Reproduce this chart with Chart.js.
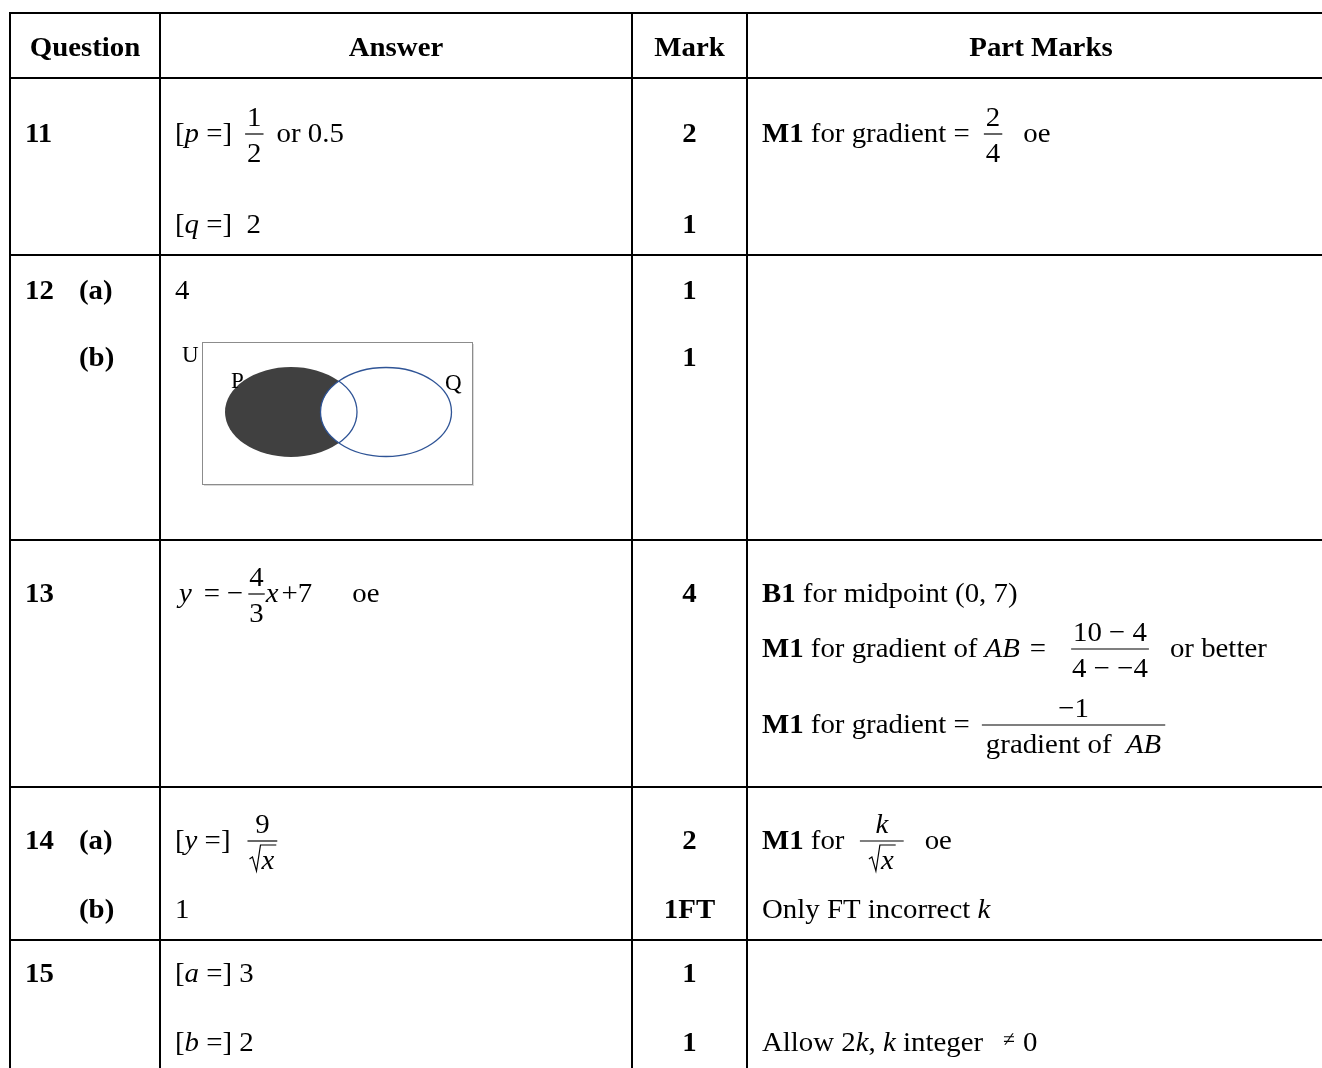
<!DOCTYPE html>
<html>
<head>
<meta charset="utf-8">
<script src="https://cdn.jsdelivr.net/npm/chart.js@4.4.0/dist/chart.umd.min.js"></script>
<style>
html,body{margin:0;padding:0;background:#fff;overflow:hidden}
#wrap{width:1322px;height:1068px;position:relative}
canvas{display:block}
</style>
</head>
<body>
<div id="wrap"><canvas id="c" width="1322" height="1068"></canvas></div>
<script>
// ---------- DATA ----------
const headers = ['Question', 'Answer', 'Mark', 'Part Marks'];
const questions = ['11', '12', '13', '14', '15'];
const parts = [[], ['(a)', '(b)'], [], ['(a)', '(b)'], []];
const marks = [['2', '1'], ['1', '1'], ['4'], ['2', '1FT'], ['1', '1']];
// token kinds: R regular, B bold, I italic, F fraction [num, den, pad], S square root, G gap, N small symbol, V venn diagram
const answers = [
  [ [['R','['],['I','p'],['R',' =]'],['G',12],['F',[['R','1']],[['R','2']],3],['G',12],['R','or 0.5']],
    [['R','['],['I','q'],['R',' =]  2']] ],
  [ [['R','4']], [['V']] ],
  [ [['G',4],['I','y'],['G',12],['R','='],['G',7],['R','−'],['G',4],['F',[['R','4']],[['R','3']],2],['G',0],['I','x'],['G',3],['R','+'],['G',0],['R','7'],['G',40],['R','oe']] ],
  [ [['R','['],['I','y'],['R',' =]'],['G',16],['F',[['R','9']],[['S',[['I','x']]]],2]],
    [['R','1']] ],
  [ [['R','['],['I','a'],['R',' =] 3']],
    [['R','['],['I','b'],['R',' =] 2']] ]
];
const partMarks = [
  [ [['B','M1'],['R',' for gradient = '],['G',6],['F',[['R','2']],[['R','4']],3],['G',20],['R','oe']] ],
  [],
  [ [['B','B1'],['R',' for midpoint (0, 7)']],
    [['B','M1'],['R',' for gradient of '],['I','AB'],['G',10],['R','='],['G',24],['F',[['R','10 − 4']],[['R','4 − −4']],2],['G',20],['R','or better']],
    [['B','M1'],['R',' for gradient = '],['G',4],['F',[['R','−1']],[['R','gradient of  '],['I','AB']],5]] ],
  [ [['B','M1'],['R',' for  '],['F',[['I','k']],[['S',[['I','x']]]],9],['G',20],['R','oe']],
    [['R','Only FT incorrect '],['I','k']] ],
  [ [], [['R','Allow 2'],['I','k'],['R',', '],['I','k'],['R',' integer'],['G',20],['N','≠'],['G',8],['R','0']] ]
];
const vennLabels = ['U', 'P', 'Q'];

// ---------- LAYOUT / STYLE ----------
const COLS = [10, 160, 632, 747, 1335];
const ROWS = [13, 78, 255, 540, 787, 940, 1090];
const HEAD_BASE = 56;
const LINES = [[142, 233], [299, 366], [602, 657, 733], [849, 918], [982, 1051]];
const Q_X = 25, PART_X = 79, ANS_X = 175, PM_X = 762;
const FS = 28, SX = 1.03, FPAD = 4, RADW = 13;
const FAMILY = '"Liberation Serif", "Times New Roman", serif';
const VENN = {box: [202, 342, 270, 142], P: [291, 412, 66, 45], Q: [386, 412, 65.5, 44.5],
              labels: [[182, 362], [231, 388], [445, 390]]};

function fontOf(kind, size) {
  const it = kind === 'I' ? 'italic ' : '';
  const bw = kind === 'B' ? 'bold ' : '';
  return it + bw + size + 'px ' + FAMILY;
}
function fpad(t) { return t.length > 3 ? t[3] : FPAD; }
function tokW(ctx, t) {
  switch (t[0]) {
    case 'R': case 'B': case 'I':
      ctx.font = fontOf(t[0], FS); return ctx.measureText(t[1]).width * SX;
    case 'N': ctx.font = fontOf('R', 21); return ctx.measureText(t[1]).width * SX;
    case 'G': return t[1];
    case 'F': return Math.max(toksW(ctx, t[1]), toksW(ctx, t[2])) + 2 * fpad(t);
    case 'S': return RADW + toksW(ctx, t[1]) + 2;
    default: return 0;
  }
}
function toksW(ctx, toks) { let w = 0; for (const t of toks) w += tokW(ctx, t); return w; }
function text(ctx, s, kind, size, x, b) {
  ctx.save();
  ctx.font = fontOf(kind, size);
  ctx.translate(x, b); ctx.scale(SX, 1);
  ctx.fillText(s, 0, 0);
  ctx.restore();
}
function drawToks(ctx, toks, x, b) {
  for (const t of toks) {
    const w = tokW(ctx, t);
    if (t[0] === 'R' || t[0] === 'B' || t[0] === 'I') text(ctx, t[1], t[0], FS, x, b);
    else if (t[0] === 'N') text(ctx, t[1], 'R', 21, x, b - 5);
    else if (t[0] === 'F') {
      const barY = b - 8;
      ctx.beginPath(); ctx.lineWidth = 1.2; ctx.strokeStyle = '#000';
      ctx.moveTo(x + 1, barY); ctx.lineTo(x + w - 1, barY); ctx.stroke();
      const nw = toksW(ctx, t[1]), dw = toksW(ctx, t[2]);
      drawToks(ctx, t[1], x + (w - nw) / 2, barY - 8);
      drawToks(ctx, t[2], x + (w - dw) / 2, barY + 28);
    } else if (t[0] === 'S') {
      ctx.beginPath(); ctx.lineWidth = 1.2; ctx.strokeStyle = '#000';
      ctx.moveTo(x + 1, b - 10); ctx.lineTo(x + 4, b - 12); ctx.lineTo(x + 8, b + 2);
      ctx.lineTo(x + 12, b - 24); ctx.lineTo(x + w, b - 24); ctx.stroke();
      drawToks(ctx, t[1], x + RADW, b);
    } else if (t[0] === 'V') drawVenn(ctx);
    x += w;
  }
  return x;
}
function ellipse(ctx, e) { ctx.beginPath(); ctx.ellipse(e[0], e[1], e[2], e[3], 0, 0, Math.PI * 2); }
function drawVenn(ctx) {
  const [bx, by, bw, bh] = VENN.box;
  ctx.save();
  ctx.fillStyle = '#d9d9d9'; ctx.fillRect(bx + 2, by + 2, bw, bh);
  ctx.fillStyle = '#fff'; ctx.fillRect(bx, by, bw, bh);
  ctx.strokeStyle = '#8c8c8c'; ctx.lineWidth = 1; ctx.strokeRect(bx + 0.5, by + 0.5, bw, bh);
  ellipse(ctx, VENN.P); ctx.fillStyle = '#404040'; ctx.fill();
  ellipse(ctx, VENN.Q); ctx.fillStyle = '#fff'; ctx.fill();
  ctx.strokeStyle = '#2f5496'; ctx.lineWidth = 1.3; ctx.stroke();
  ctx.save(); ellipse(ctx, VENN.Q); ctx.clip(); ellipse(ctx, VENN.P); ctx.stroke(); ctx.restore();
  ctx.fillStyle = '#000'; ctx.font = '23px ' + FAMILY;
  vennLabels.forEach((l, i) => ctx.fillText(l, VENN.labels[i][0], VENN.labels[i][1]));
  ctx.restore();
}

const tablePlugin = {
  id: 'markTable',
  afterDraw(chart) {
    const ctx = chart.ctx, xs = chart.scales.x, ys = chart.scales.y;
    const X = v => xs.getPixelForValue(v), Y = v => ys.getPixelForValue(v);
    ctx.save();
    ctx.fillStyle = '#fff'; ctx.fillRect(0, 0, chart.width, chart.height);
    ctx.fillStyle = '#000'; ctx.textBaseline = 'alphabetic';
    // grid
    ctx.strokeStyle = '#000'; ctx.lineWidth = 2;
    ROWS.slice(0, -1).forEach(r => { ctx.beginPath(); ctx.moveTo(X(COLS[0]) - 1, Y(r)); ctx.lineTo(X(COLS[4]), Y(r)); ctx.stroke(); });
    COLS.forEach(c => { ctx.beginPath(); ctx.moveTo(X(c), Y(ROWS[0]) - 1); ctx.lineTo(X(c), Y(ROWS[ROWS.length - 1])); ctx.stroke(); });
    // headers
    headers.forEach((h, i) => {
      ctx.font = fontOf('B', FS);
      const w = ctx.measureText(h).width * SX;
      text(ctx, h, 'B', FS, X((COLS[i] + COLS[i + 1]) / 2) - w / 2, Y(HEAD_BASE));
    });
    // rows
    questions.forEach((q, r) => {
      const L = LINES[r];
      ctx.fillStyle = '#000';
      text(ctx, q, 'B', FS, X(Q_X), Y(L[0]));
      parts[r].forEach((p, j) => text(ctx, p, 'B', FS, X(PART_X), Y(L[j])));
      marks[r].forEach((m, j) => {
        ctx.font = fontOf('B', FS);
        const w = ctx.measureText(m).width * SX;
        text(ctx, m, 'B', FS, X((COLS[2] + COLS[3]) / 2) - w / 2, Y(L[j]));
      });
      answers[r].forEach((line, j) => { ctx.fillStyle = '#000'; drawToks(ctx, line, X(ANS_X), Y(L[j])); });
      partMarks[r].forEach((line, j) => { ctx.fillStyle = '#000'; drawToks(ctx, line, X(PM_X), Y(L[j])); });
    });
    ctx.restore();
  }
};

new Chart(document.getElementById('c'), {
  type: 'scatter',
  data: { datasets: [{ data: [], pointRadius: 0 }] },
  options: {
    responsive: false, animation: false, devicePixelRatio: 1,
    layout: { padding: 0 },
    plugins: { legend: { display: false }, tooltip: { enabled: false } },
    scales: {
      x: { type: 'linear', min: 0, max: 1322, display: false },
      y: { type: 'linear', min: 0, max: 1068, reverse: true, display: false }
    }
  },
  plugins: [tablePlugin]
});
</script>
</body>
</html>
